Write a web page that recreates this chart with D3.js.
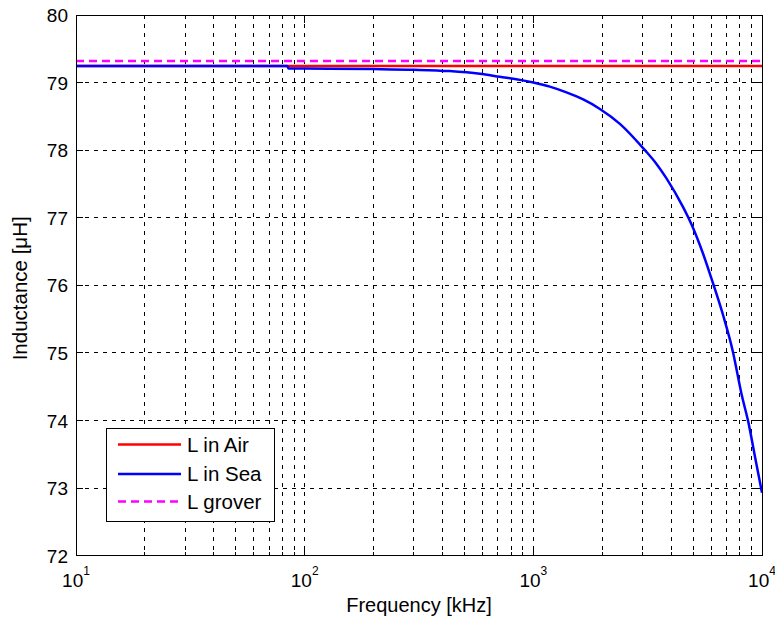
<!DOCTYPE html>
<html>
<head>
<meta charset="utf-8">
<script src="https://cdn.jsdelivr.net/npm/d3@7"></script>
<style>
  body { margin: 0; background: #fff; }
  text { font-family: "Liberation Sans", Arial, sans-serif; }
</style>
</head>
<body>
<svg id="chart"></svg>
<script>
// data
var seaFreq = [10, 84, 85, 100, 200, 300, 430, 584, 713, 873, 1000, 1180, 1396, 1652, 1955, 2391, 3076, 3450, 3828, 4530, 4920, 5535, 6120, 6770, 7447, 8150, 8710, 9300, 10000]
var seaL = [79.244, 79.244, 79.21, 79.208, 79.2, 79.19, 79.17, 79.13, 79.085, 79.04, 79.0, 78.94, 78.855, 78.75, 78.61, 78.39, 78.0, 77.8, 77.58, 77.15, 76.9, 76.46, 76.02, 75.55, 75.03, 74.38, 73.98, 73.48, 72.93]
var airL = 79.246
var groverL = 79.32
var freqRange = [10, 10000]
var yTicks = [72, 73, 74, 75, 76, 77, 78, 79, 80]
var legendNames = ["L in Air", "L in Sea", "L grover"]

var dimensions = {
  width: 775,
  height: 621,
  margin: { top: 15, bottom: 65.3, right: 13, left: 76 }
}
var w = dimensions.width - dimensions.margin.left - dimensions.margin.right
var h = dimensions.height - dimensions.margin.top - dimensions.margin.bottom

var svg = d3.select("#chart")
  .attr("width", dimensions.width)
  .attr("height", dimensions.height)

var g = svg.append("g")
  .attr("transform", "translate(" + dimensions.margin.left + "," + dimensions.margin.top + ")")

var x = d3.scaleLog().domain(freqRange).range([0, w])
var y = d3.scaleLinear().domain([72, 80]).range([h, 0])

// all log ticks (decades + 2..9)
var xAll = []
for (var e = 1; e < 4; e++) {
  for (var m = 1; m < 10; m++) xAll.push(m * Math.pow(10, e))
}
xAll.push(10000)
var xMajor = [10, 100, 1000, 10000]

// grid
g.selectAll(".vgrid").data(xAll.filter(d => d > 10 && d < 10000)).enter()
  .append("line")
  .attr("x1", d => x(d)).attr("x2", d => x(d))
  .attr("y1", 0).attr("y2", h)
  .attr("stroke", "#000").attr("stroke-width", 1)
  .attr("stroke-dasharray", "4,5")
  .attr("shape-rendering", "crispEdges")

g.selectAll(".hgrid").data(yTicks.filter(d => d > 72 && d < 80)).enter()
  .append("line")
  .attr("x1", 0).attr("x2", w)
  .attr("y1", d => y(d)).attr("y2", d => y(d))
  .attr("stroke", "#000").attr("stroke-width", 1)
  .attr("stroke-dasharray", "4,5")
  .attr("shape-rendering", "crispEdges")

// tick marks inward, all four sides
xAll.forEach(function(d) {
  var len = xMajor.indexOf(d) >= 0 ? 8 : 4
  g.append("line").attr("x1", x(d)).attr("x2", x(d)).attr("y1", h).attr("y2", h - len)
    .attr("stroke", "#000").attr("shape-rendering", "crispEdges")
  g.append("line").attr("x1", x(d)).attr("x2", x(d)).attr("y1", 0).attr("y2", len)
    .attr("stroke", "#000").attr("shape-rendering", "crispEdges")
})
yTicks.forEach(function(d) {
  g.append("line").attr("x1", 0).attr("x2", 7).attr("y1", y(d)).attr("y2", y(d))
    .attr("stroke", "#000").attr("shape-rendering", "crispEdges")
  g.append("line").attr("x1", w).attr("x2", w - 7).attr("y1", y(d)).attr("y2", y(d))
    .attr("stroke", "#000").attr("shape-rendering", "crispEdges")
})

// data lines
var line = d3.line().x(d => x(d[0])).y(d => y(d[1]))
var smooth = d3.line().x(d => x(d[0])).y(d => y(d[1])).curve(d3.curveMonotoneX)

g.append("path")
  .datum(freqRange.map(f => [f, airL]))
  .attr("d", line)
  .attr("fill", "none").attr("stroke", "#ff0000").attr("stroke-width", 2.5)

g.append("path")
  .datum(seaFreq.map((f, i) => [f, seaL[i]]))
  .attr("d", smooth)
  .attr("fill", "none").attr("stroke", "#0000ff").attr("stroke-width", 2.5)

g.append("path")
  .datum(freqRange.map(f => [f, groverL]))
  .attr("d", line)
  .attr("fill", "none").attr("stroke", "#ff00ff").attr("stroke-width", 2.5)
  .attr("stroke-dasharray", "8,5")

// axes box
g.append("rect")
  .attr("width", w).attr("height", h)
  .attr("fill", "none").attr("stroke", "#000").attr("stroke-width", 1)
  .attr("shape-rendering", "crispEdges")

// y tick labels
g.selectAll(".ylab").data(yTicks).enter()
  .append("text")
  .attr("x", -8)
  .attr("y", d => y(d) + 7)
  .attr("text-anchor", "end")
  .style("font-size", "19px")
  .text(d => d)

// x tick labels 10^n
xMajor.forEach(function(d) {
  var t = g.append("text")
    .attr("x", x(d))
    .attr("y", h + 31)
    .attr("text-anchor", "middle")
    .style("font-size", "19px")
  t.append("tspan").text("10")
  t.append("tspan").attr("dy", -12).style("font-size", "12px").text(Math.round(Math.log10(d)))
})

// axis titles
svg.append("text")
  .attr("x", dimensions.margin.left + w / 2)
  .attr("y", 612)
  .attr("text-anchor", "middle")
  .style("font-size", "20px")
  .text("Frequency [kHz]")

svg.append("text")
  .attr("transform", "translate(27," + (dimensions.margin.top + h / 2 + 3) + ") rotate(-90)")
  .attr("text-anchor", "middle")
  .style("font-size", "20.5px")
  .text("Inductance [\u03BCH]")

// legend
var legend = svg.append("g").attr("transform", "translate(106,428)")
legend.append("rect")
  .attr("width", 168).attr("height", 93)
  .attr("fill", "#fff").attr("stroke", "#000").attr("stroke-width", 1)
  .attr("shape-rendering", "crispEdges")
var legColors = ["#ff0000", "#0000ff", "#ff00ff"]
var legY = [16.5, 46, 73.5]
legendNames.forEach(function(name, i) {
  legend.append("line")
    .attr("x1", 12).attr("x2", 75)
    .attr("y1", legY[i]).attr("y2", legY[i])
    .attr("stroke", legColors[i]).attr("stroke-width", 2.5)
    .attr("stroke-dasharray", i == 2 ? "8,5" : null)
  legend.append("text")
    .attr("x", 81).attr("y", legY[i] + 7)
    .style("font-size", "20.5px")
    .text(name)
})
</script>
</body>
</html>
